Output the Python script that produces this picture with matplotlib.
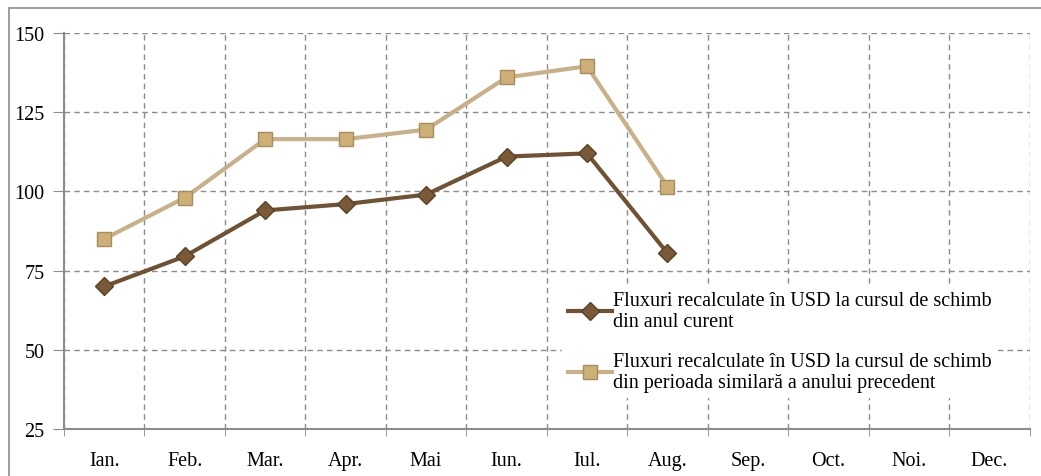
import matplotlib.pyplot as plt
from matplotlib.patches import Rectangle

# data
months = ['Ian.', 'Feb.', 'Mar.', 'Apr.', 'Mai', 'Iun.', 'Iul.', 'Aug.',
          'Sep.', 'Oct.', 'Noi.', 'Dec.']
curent = [70, 79.5, 94, 96, 99, 111, 112, 80.5]
precedent = [85, 98, 116.5, 116.5, 119.5, 136, 139.5, 101.5]
label_curent = 'Fluxuri recalculate în USD la cursul de schimb\ndin anul curent'
label_precedent = ('Fluxuri recalculate în USD la cursul de schimb\n'
                   'din perioada similară a anului precedent')

plt.rcParams['font.family'] = ['Liberation Serif', 'DejaVu Serif']

fig = plt.figure(figsize=(10.41, 4.77), dpi=100)
ax = fig.add_axes([0.0615, 0.0985, 0.9275, 0.8302])

# outer frame of the chart area
fig.patches.append(Rectangle((9 / 1041, -0.05), 1.1, 1 - 9 / 477 + 0.05,
                             transform=fig.transFigure, fill=False,
                             edgecolor='#8c8c8c', linewidth=1.2))

x = list(range(len(curent)))
ax.plot(x, curent, color='#6e5233', linewidth=3, marker='D', markersize=9,
        markerfacecolor='#7a5a36', markeredgecolor='#5a4128',
        label=label_curent, zorder=3)
ax.plot(x, precedent, color='#c8b088', linewidth=3, marker='s', markersize=10,
        markerfacecolor='#cdb077', markeredgecolor='#a88c5c',
        label=label_precedent, zorder=3)

ax.set_xlim(-0.5, len(months) - 0.5)
ax.set_ylim(25, 150)
ax.set_yticks([25, 50, 75, 100, 125, 150])
ax.set_xticks(range(len(months)))
ax.set_xticklabels(months)
ax.set_xticks([i + 0.5 for i in range(-1, len(months))], minor=True)

ax.tick_params(axis='x', which='major', length=0, pad=16, labelsize=14.5)
ax.tick_params(axis='x', which='minor', length=5, color='#8c8c8c')
ax.tick_params(axis='y', length=8, color='#8c8c8c', labelsize=14.5, pad=6)

ax.grid(True, which='major', axis='y', linestyle=(0, (4, 3)), color='#8c8c8c', linewidth=1)
ax.grid(True, which='minor', axis='x', linestyle=(0, (4, 3)), color='#8c8c8c', linewidth=1)

for s in ['top', 'right']:
    ax.spines[s].set_visible(False)
for s in ['left', 'bottom']:
    ax.spines[s].set_color('#8c8c8c')
    ax.spines[s].set_linewidth(1.5)

leg = ax.legend(loc='upper left', bbox_to_anchor=(0.505, 0.39), frameon=True,
                fontsize=14.5, handlelength=2.2, handletextpad=0.05,
                labelspacing=1.0, borderpad=0.3)
leg.get_frame().set_edgecolor('none')
leg.get_frame().set_facecolor('white')
leg.get_frame().set_alpha(1)

fig.savefig('out.png', dpi=100)
